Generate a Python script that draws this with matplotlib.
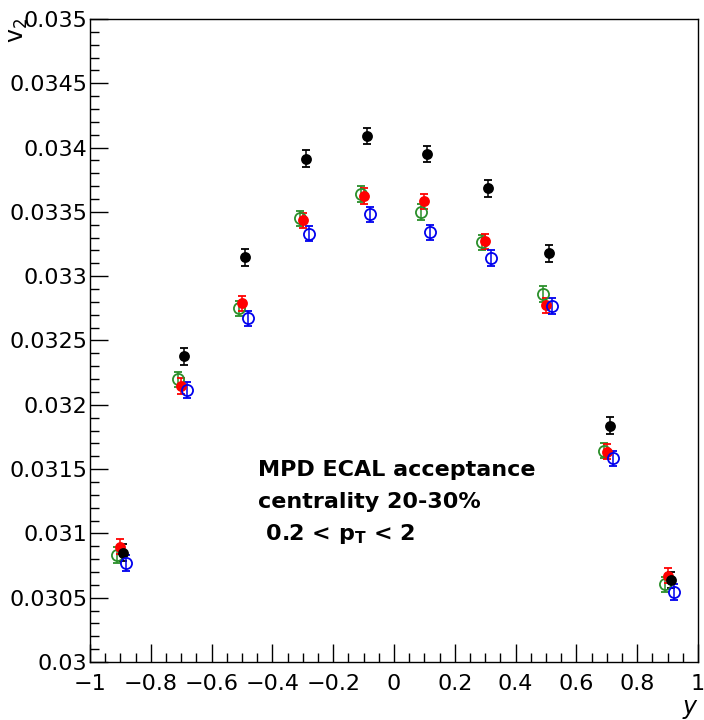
import matplotlib
matplotlib.use("Agg")
import matplotlib.pyplot as plt
from matplotlib.ticker import MultipleLocator, FuncFormatter

# rapidity bin centres
y_bins = [-0.9, -0.7, -0.5, -0.3, -0.1, 0.1, 0.3, 0.5, 0.7, 0.9]

# v2 values, one list per series
v2_black = [0.030850, 0.032378, 0.033147, 0.033914, 0.034090, 0.033950, 0.033683, 0.033178, 0.031838, 0.030638]
v2_red = [0.030897, 0.032146, 0.032789, 0.033435, 0.033624, 0.033582, 0.033270, 0.032774, 0.031635, 0.030671]
v2_green = [0.030832, 0.032198, 0.032750, 0.033450, 0.033639, 0.033500, 0.033263, 0.032862, 0.031643, 0.030604]
v2_blue = [0.030770, 0.032115, 0.032673, 0.033331, 0.033481, 0.033341, 0.033142, 0.032768, 0.031584, 0.030544]

err_black = [0.000065] * 10
err_red = [0.000060] * 10
err_green = [0.000060] * 10
err_blue = [0.000060] * 10

plt.rcParams['font.family'] = ['DejaVu Sans']

fig = plt.figure(figsize=(7.04, 7.2), dpi=100)
ax = fig.add_axes([0.1278, 0.0806, 0.8637, 0.893])

# series drawn with small x shifts as in the original
series = [
    (v2_green, err_green, -0.01, '#2a8f2a', 'none', 8),
    (v2_red, err_red, 0.0, '#ff0000', '#ff0000', 6.5),
    (v2_black, err_black, 0.01, 'black', 'black', 6.5),
    (v2_blue, err_blue, 0.02, '#0000ee', 'none', 8),
]
for vals, errs, dx, col, face, ms in series:
    ax.errorbar([x + dx for x in y_bins], vals, yerr=errs, fmt='o', color=col,
                mfc=face, mec=col, ms=ms, mew=1.3, elinewidth=1.1,
                capsize=3, capthick=1.1)

ax.set_xlim(-1, 1)
ax.set_ylim(0.03, 0.035)

ax.xaxis.set_major_locator(MultipleLocator(0.2))
ax.xaxis.set_minor_locator(MultipleLocator(0.05))
ax.yaxis.set_major_locator(MultipleLocator(0.0005))
ax.yaxis.set_minor_locator(MultipleLocator(0.0001))

def fmt_x(v, pos):
    s = '%g' % round(v, 2)
    return s.replace('-', '\u2212') if s != '-0' else '0'

def fmt_y(v, pos):
    return '%g' % round(v, 5)

ax.xaxis.set_major_formatter(FuncFormatter(fmt_x))
ax.yaxis.set_major_formatter(FuncFormatter(fmt_y))

ax.tick_params(which='both', direction='in', top=False, right=False,
               labelsize=16, width=1)
ax.tick_params(which='major', length=13)
ax.tick_params(which='minor', length=6.5)
ax.tick_params(axis='x', pad=9)
ax.tick_params(axis='y', pad=2)
for sp in ax.spines.values():
    sp.set_linewidth(1)

ax.text(-0.447, 0.031446, 'MPD ECAL acceptance', fontsize=16, fontweight='bold')
ax.text(-0.447, 0.031197, 'centrality 20-30%', fontsize=16, fontweight='bold')
ax.text(-0.447, 0.030948, ' 0.2 < p$_\\mathregular{T}$ < 2', fontsize=16, fontweight='bold')

fig.text(0.99, 0.002, 'y', fontsize=17, style='italic', ha='right', va='bottom')
fig.text(0.008, 0.975, 'v$_\\mathregular{2}$', fontsize=17, rotation=90, ha='left', va='top')

fig.savefig('out.png', dpi=100)
